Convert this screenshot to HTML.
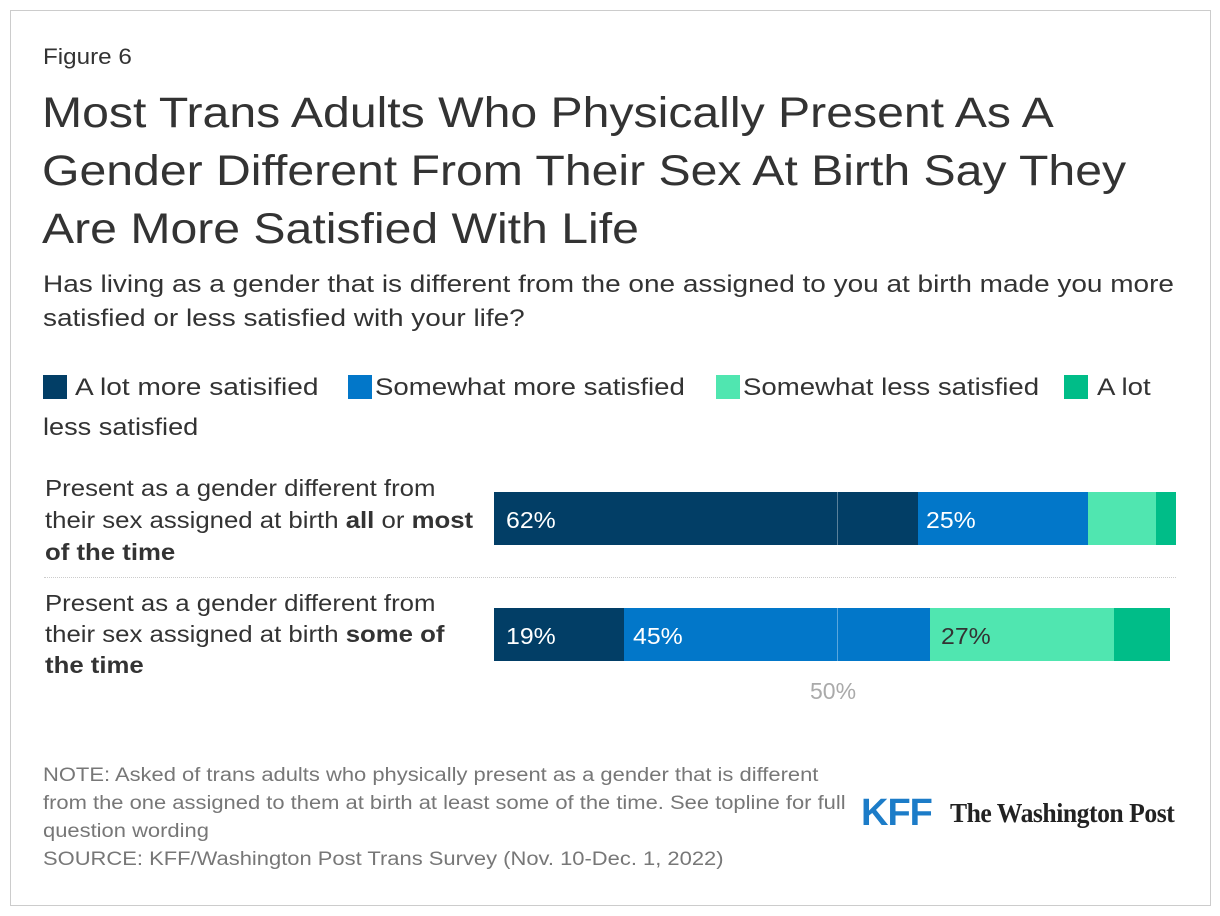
<!DOCTYPE html><html><head><meta charset="utf-8"><style>
body{margin:0;width:1220px;height:916px;background:#fff;font-family:"Liberation Sans",sans-serif;position:relative;overflow:hidden}
.a{position:absolute;white-space:nowrap;transform-origin:left top}
.border{position:absolute;left:10px;top:10px;width:1199px;height:894px;border:1px solid #ccc}
.seg{position:absolute;height:53px}
.lbl{position:absolute;font-size:23px;line-height:53px;color:#fff;transform:scaleX(1.08);transform-origin:left}
.sw{position:absolute;width:24px;height:24px;top:375px}
</style></head><body>
<div class="border"></div>
<div class="a" style="left:43px;top:44px;font-size:22px;color:#333;transform:scaleX(1.1)">Figure 6</div>
<div class="a" style="left:42px;top:84px;font-size:43px;line-height:58px;color:#333;transform:scaleX(1.12)">Most Trans Adults Who Physically Present As A<br>Gender Different From Their Sex At Birth Say They<br>Are More Satisfied With Life</div>
<div class="a" style="left:43px;top:268px;font-size:24px;line-height:34px;color:#333;transform:scaleX(1.165)">Has living as a gender that is different from the one assigned to you at birth made you more<br>satisfied or less satisfied with your life?</div>
<div class="sw" style="left:43px;background:#023e66"></div>
<div class="sw" style="left:348px;background:#0277c9"></div>
<div class="sw" style="left:716px;background:#50e6b0"></div>
<div class="sw" style="left:1064px;background:#00bd88"></div>
<div class="a" style="left:75px;top:368px;font-size:24px;line-height:40px;color:#333;transform:scaleX(1.17)">A lot more satisified</div>
<div class="a" style="left:375px;top:368px;font-size:24px;line-height:40px;color:#333;transform:scaleX(1.15)">Somewhat more satisfied</div>
<div class="a" style="left:743px;top:368px;font-size:24px;line-height:40px;color:#333;transform:scaleX(1.15)">Somewhat less satisfied</div>
<div class="a" style="left:1097px;top:368px;font-size:24px;line-height:40px;color:#333;transform:scaleX(1.15)">A lot</div>
<div class="a" style="left:43px;top:408px;font-size:24px;line-height:40px;color:#333;transform:scaleX(1.13)">less satisfied</div>
<div class="a" style="left:45px;top:472px;font-size:23px;line-height:32px;color:#333;transform:scaleX(1.12)">Present as a gender different from<br>their sex assigned at birth <b>all</b> or <b>most</b><br><b>of the time</b></div>
<div class="a" style="left:45px;top:588px;font-size:23px;line-height:31px;color:#333;transform:scaleX(1.12)">Present as a gender different from<br>their sex assigned at birth <b>some of</b><br><b>the time</b></div>
<div class="seg" style="top:492px;left:494px;width:424px;background:#023e66"></div>
<div class="seg" style="top:492px;left:918px;width:170px;background:#0277c9"></div>
<div class="seg" style="top:492px;left:1088px;width:68px;background:#50e6b0"></div>
<div class="seg" style="top:492px;left:1156px;width:20px;background:#00bd88"></div>
<div class="seg" style="top:608px;left:494px;width:130px;background:#023e66"></div>
<div class="seg" style="top:608px;left:624px;width:306px;background:#0277c9"></div>
<div class="seg" style="top:608px;left:930px;width:184px;background:#50e6b0"></div>
<div class="seg" style="top:608px;left:1114px;width:56px;background:#00bd88"></div>
<div class="a" style="left:837px;top:492px;width:1px;height:53px;background:rgba(255,255,255,.35)"></div>
<div class="a" style="left:837px;top:608px;width:1px;height:53px;background:rgba(255,255,255,.35)"></div>
<div class="a" style="left:44px;top:577px;width:1132px;border-top:1px dotted #ccc"></div>
<div class="lbl" style="left:506px;top:494px">62%</div>
<div class="lbl" style="left:926px;top:494px">25%</div>
<div class="lbl" style="left:506px;top:610px">19%</div>
<div class="lbl" style="left:633px;top:610px">45%</div>
<div class="lbl" style="left:941px;top:610px;color:#333">27%</div>
<div class="a" style="left:810px;top:678px;font-size:23px;color:#aaa">50%</div>
<div class="a" style="left:43px;top:762px;font-size:19px;line-height:28px;color:#777;transform:scaleX(1.155)">NOTE: Asked of trans adults who physically present as a gender that is different<br>from the one assigned to them at birth at least some of the time. See topline for full<br>question wording<br>SOURCE: KFF/Washington Post Trans Survey (Nov. 10-Dec. 1, 2022)</div>
<div class="a" style="left:861px;top:792px;font-size:38px;font-weight:bold;color:#1c7cc8;letter-spacing:-1px">KFF</div>
<div class="a" style="left:950px;top:798px;font-size:27px;font-family:'Liberation Serif',serif;font-weight:bold;color:#222;letter-spacing:-0.5px;transform:scaleX(0.95)">The Washington Post</div>
</body></html>
